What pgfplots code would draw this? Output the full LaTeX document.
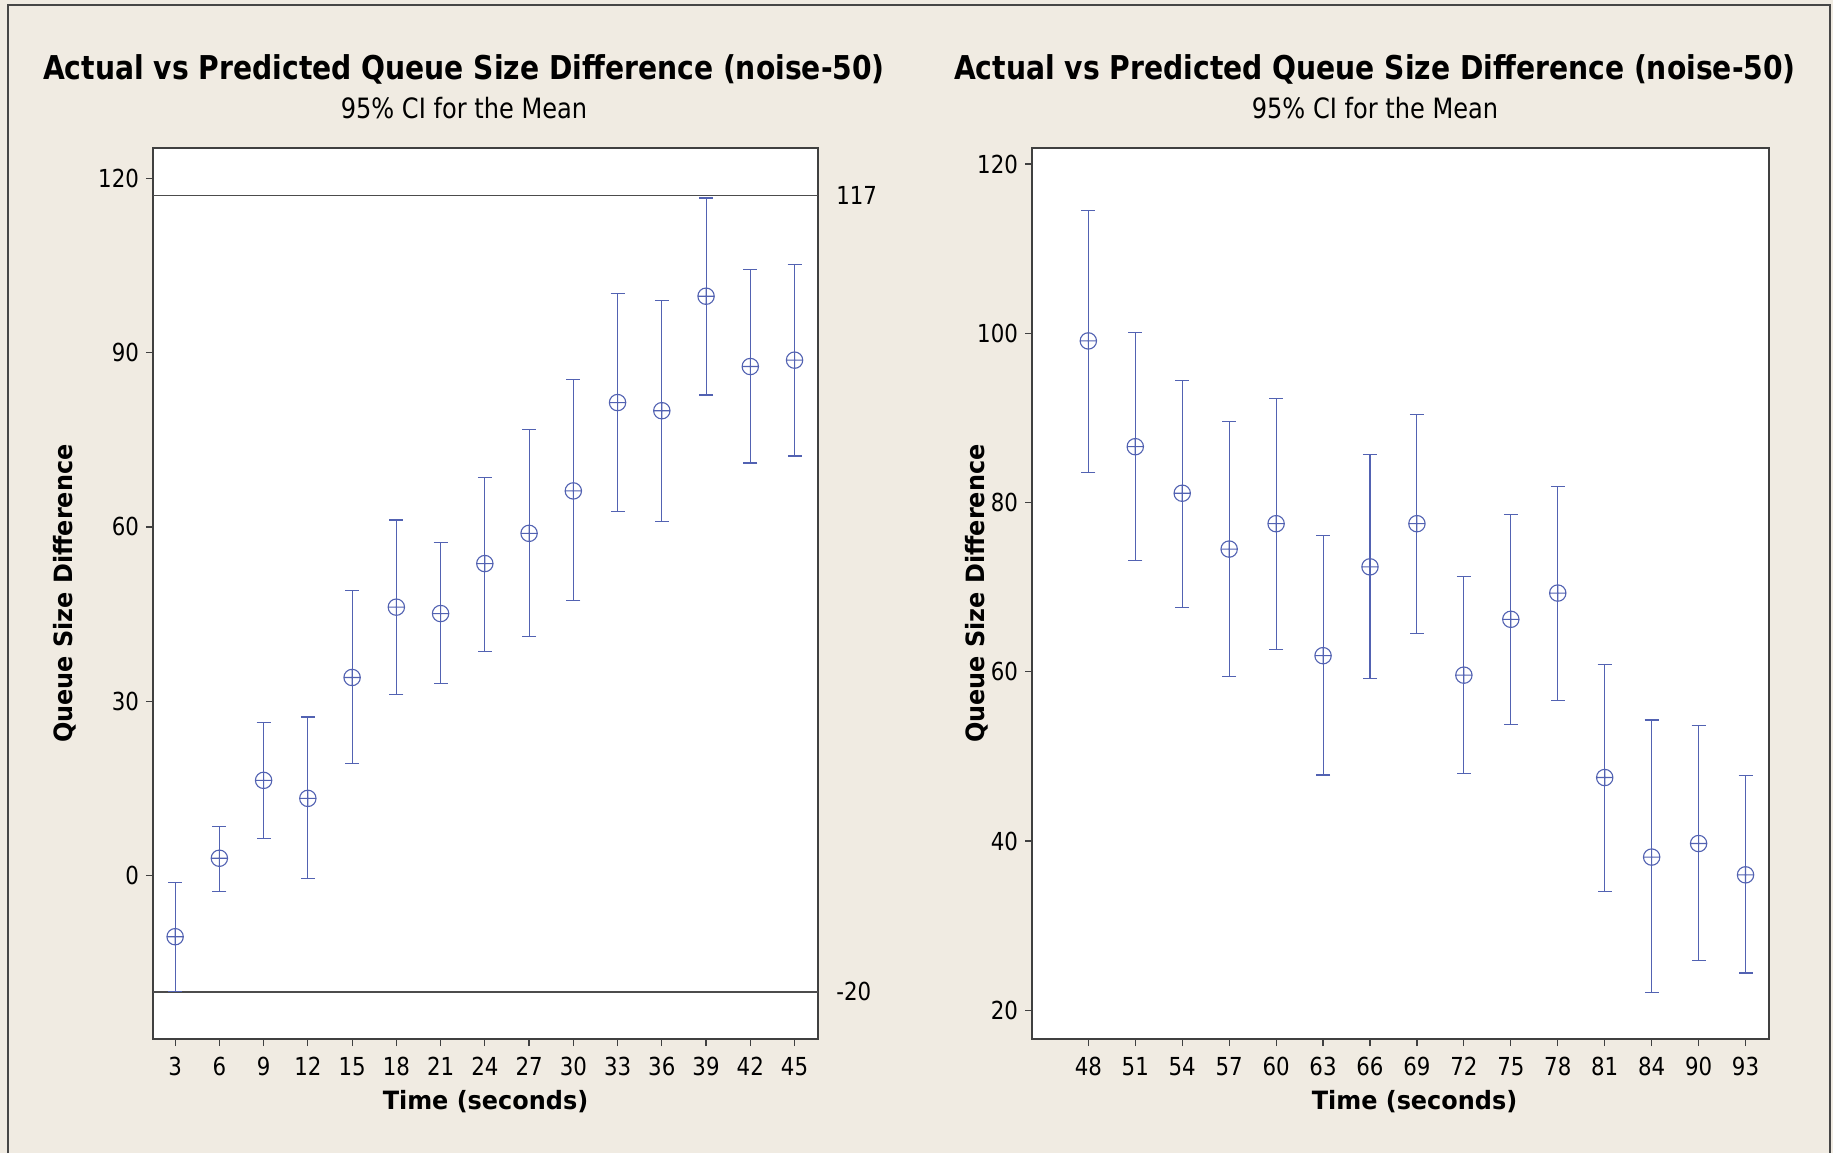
\documentclass[border=0pt]{standalone}
\usepackage{fontspec}
\setmainfont{DejaVu Sans}[FakeStretch=0.86]
\newfontfamily\labfont{DejaVu Sans}[FakeStretch=0.95]
\usepackage{pgfplots}
\pgfplotsset{compat=1.18}
\definecolor{bgc}{RGB}{240,235,226}
\definecolor{cblue}{RGB}{82,98,178}
\definecolor{frame}{RGB}{70,70,70}
\pgfplotsset{
  minitab/.style={
    scale only axis,
    anchor=south west,
    axis background/.style={fill=white},
    axis line style={draw=black!75, line width=0.7pt},
    tick align=outside,
    xtick pos=bottom, ytick pos=left,
    major tick length=3.5pt,
    tick style={black!75, line width=0.6pt},
    tick label style={font=\fontsize{12.4}{14}\selectfont, /pgf/number format/assume math mode=true},
    xticklabel style={yshift=-2pt},
    xtick={0,...,14},
    label style={font=\labfont\bfseries\fontsize{12.6}{14}\selectfont},
    ylabel style={at={(axis description cs:0,0.5)}, anchor=center, rotate=0},
    xlabel style={at={(axis description cs:0.5,0)}, anchor=center, yshift=-31.5pt},
    xlabel={Time (seconds)},
    ylabel={Queue Size Difference},
  },
  ebar/.style={only marks, color=cblue, mark=oplus, mark size=4.1pt,
    mark options={line width=0.55pt},
    error bars/.cd, y dir=both, y explicit,
    error bar style={line width=0.55pt, cblue},
    error mark options={rotate=90, mark size=3.5pt, line width=0.55pt, cblue}},
}
\begin{document}
\begin{tikzpicture}
\fill[bgc] (0,0) rectangle (916.5pt,576.5pt);
\useasboundingbox (0,0) rectangle (916.5pt,576.5pt);
\draw[frame, line width=1.2pt] (4pt,0) -- (4pt,574pt) -- (915pt,574pt) -- (915pt,0);
\node[font=\bfseries\fontsize{16.4}{20}\selectfont] at (232pt,542pt) {Actual vs Predicted Queue Size Difference (noise-50)};
\node[font=\fontsize{14}{16}\selectfont] at (232pt,522.5pt) {95\% CI for the Mean};
\node[font=\bfseries\fontsize{16.4}{20}\selectfont] at (687.5pt,542pt) {Actual vs Predicted Queue Size Difference (noise-50)};
\node[font=\fontsize{14}{16}\selectfont] at (687.5pt,522.5pt) {95\% CI for the Mean};

\begin{axis}[minitab,
  at={(76.5pt,57pt)}, width=332.5pt, height=445.5pt,
  xmin=-0.5, xmax=14.53, ymin=-28.1, ymax=125.2,
  xticklabels={3,6,9,12,15,18,21,24,27,30,33,36,39,42,45},
  ytick={0,30,60,90,120},
  ylabel style={xshift=0pt, yshift=44pt},
  clip=false]
\draw[black!70, line width=0.7pt] ({rel axis cs:0,0}|-{axis cs:0,117}) -- ({rel axis cs:1,0}|-{axis cs:0,117})
  node[anchor=west, text=black, xshift=5.5pt, font=\fontsize{12.4}{14}\selectfont] {117};
\draw[black!70, line width=0.7pt] ({rel axis cs:0,0}|-{axis cs:0,-20}) -- ({rel axis cs:1,0}|-{axis cs:0,-20})
  node[anchor=west, text=black, xshift=5.5pt, font=\fontsize{12.4}{14}\selectfont] {-20};
\addplot[ebar] coordinates {
 (0,-10.5) += (0,9.4) -= (0,9.4)
 (1,3.0) += (0,5.5) -= (0,5.7)
 (2,16.4) += (0,9.9) -= (0,10.0)
 (3,13.3) += (0,14.0) -= (0,13.8)
 (4,34.1) += (0,14.9) -= (0,14.8)
 (5,46.2) += (0,15.0) -= (0,15.0)
 (6,45.1) += (0,12.2) -= (0,12.1)
 (7,53.7) += (0,14.8) -= (0,15.2)
 (8,58.9) += (0,17.9) -= (0,17.7)
 (9,66.2) += (0,19.1) -= (0,18.9)
 (10,81.4) += (0,18.8) -= (0,18.8)
 (11,80.0) += (0,19.0) -= (0,19.0)
 (12,99.7) += (0,16.9) -= (0,17.0)
 (13,87.6) += (0,16.7) -= (0,16.6)
 (14,88.7) += (0,16.5) -= (0,16.5)
};
\end{axis}

\begin{axis}[minitab,
  at={(516pt,57pt)}, width=368.5pt, height=445.5pt,
  xmin=-1.2, xmax=14.5, ymin=16.6, ymax=121.9,
  xticklabels={48,51,54,57,60,63,66,69,72,75,78,81,84,90,93},
  ytick={20,40,60,80,100,120},
  ylabel style={yshift=27.5pt},
  xlabel style={xshift=7pt}]
\addplot[ebar] coordinates {
 (0,99.1) += (0,15.4) -= (0,15.5)
 (1,86.6) += (0,13.5) -= (0,13.4)
 (2,81.1) += (0,13.3) -= (0,13.5)
 (3,74.5) += (0,15.1) -= (0,15.1)
 (4,77.5) += (0,14.8) -= (0,14.9)
 (5,61.9) += (0,14.2) -= (0,14.1)
 (6,72.4) += (0,13.3) -= (0,13.2)
 (7,77.5) += (0,12.9) -= (0,13.0)
 (8,59.6) += (0,11.7) -= (0,11.6)
 (9,66.2) += (0,12.4) -= (0,12.4)
 (10,69.3) += (0,12.6) -= (0,12.7)
 (11,47.5) += (0,13.4) -= (0,13.5)
 (12,38.1) += (0,16.2) -= (0,16.0)
 (13,39.7) += (0,13.9) -= (0,13.8)
 (14,36.0) += (0,11.7) -= (0,11.6)
};
\end{axis}
\end{tikzpicture}
\end{document}
